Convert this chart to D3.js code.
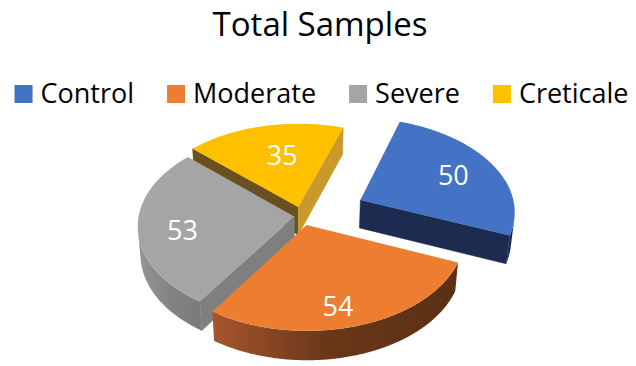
<!DOCTYPE html>
<html><head><meta charset="utf-8">
<script src="https://cdn.jsdelivr.net/npm/d3@7"></script>
<style>body{margin:0;background:#fff}svg{display:block}</style>
</head><body>
<svg id="chart" width="636" height="366"></svg>
<script>
// ---- data ----
const categories = ["Control", "Moderate", "Severe", "Creticale"];
const values = [50, 54, 53, 35];
const titleText = "Total Samples";
// ---- styles ----
const explode = [0.42, 0.1, 0.05, 0.1];
const labelRadius = [0.7, 0.8, 0.72, 0.62];
const labelTurnDeg = [0, 4, -4, 4];
const topColors = ["#4472C4", "#ED7D31", "#A5A5A5", "#FFC000"];
const sideStops = [
  ["#22386A", "#1C2E54", "#1A2B4E"],
  ["#A6562C", "#6B3819", "#5A2F14"],
  ["#959595", "#858585", "#7A7A7A"],
  ["#8A6A20", "#7A5C1E", "#6A4F1F"]
];
const startFaceColors = ["#1B2C50", "#5B3015", "#7F7F7F", "#6A4F1F"];
const endFaceColors = ["#1B2C50", "#5B3015", "#7F7F7F", "#C9992B"];

const svg = d3.select("#chart");
const defs = svg.append("defs");

// ---- 3D projection ----
const cx = 302, cy = 216, K = 155.6;
const elev = Math.asin(0.6), D = 8, thick = 0.23;
const firstAngle = 18.5 * Math.PI / 180;
const se = Math.sin(elev), ce = Math.cos(elev);
const cam = [0, D * se, -D * ce];
function proj(X, Y, Z) {
  const up = Y * ce + Z * se;
  const depth = Z * ce - Y * se;
  const p = 1 / (1 + depth / D);
  return [cx + K * X * p, cy - K * up * p];
}
function visible(P, n) {
  return (cam[0] - P[0]) * n[0] + (cam[1] - P[1]) * n[1] + (cam[2] - P[2]) * n[2] > 0;
}
const line = d3.line();

const pie = d3.pie().sort(null).value(d => d.v)
  .startAngle(firstAngle).endAngle(firstAngle + 2 * Math.PI);
const arcs = pie(categories.map((c, i) => ({ c, v: values[i], i })));

const slices = arcs.map(a => {
  const i = a.data.i;
  const mid = (a.startAngle + a.endAngle) / 2;
  const ox = explode[i] * Math.sin(mid), oz = explode[i] * Math.cos(mid);
  const cz = oz + 0.5 * Math.cos(mid);
  return { a, i, mid, ox, oz, cz };
}).sort((p, q) => q.cz - p.cz);

const step = Math.PI / 360;
slices.forEach(s => {
  const { a, i, ox, oz } = s;
  const a0 = a.startAngle, a1 = a.endAngle;
  const g = svg.append("g");
  const rim = (t, Y) => proj(ox + Math.sin(t), Y, oz + Math.cos(t));
  const apex = Y => proj(ox, Y, oz);

  const nS = [-Math.cos(a0), 0, Math.sin(a0)];
  const pS = [ox + 0.5 * Math.sin(a0), -thick / 2, oz + 0.5 * Math.cos(a0)];
  if (visible(pS, nS)) {
    g.append("path").attr("d", line([apex(0), rim(a0, 0), rim(a0, -thick), apex(-thick)]) + "Z")
      .attr("fill", startFaceColors[i]).attr("stroke", startFaceColors[i]).attr("stroke-width", 0.5);
  }
  const nE = [Math.cos(a1), 0, -Math.sin(a1)];
  const pE = [ox + 0.5 * Math.sin(a1), -thick / 2, oz + 0.5 * Math.cos(a1)];
  if (visible(pE, nE)) {
    g.append("path").attr("d", line([apex(0), rim(a1, 0), rim(a1, -thick), apex(-thick)]) + "Z")
      .attr("fill", endFaceColors[i]).attr("stroke", endFaceColors[i]).attr("stroke-width", 0.5);
  }
  const ts = d3.range(a0, a1, step).concat([a1]);
  const vis = ts.filter(t => visible([ox + Math.sin(t), -thick / 2, oz + Math.cos(t)], [Math.sin(t), 0, Math.cos(t)]));
  if (vis.length > 1) {
    const gid = "side" + i;
    const gr = defs.append("linearGradient").attr("id", gid).attr("x1", 0).attr("x2", 1).attr("y1", 0).attr("y2", 0);
    sideStops[i].forEach((c, k) => gr.append("stop").attr("offset", k === 1 ? 0.45 : k / 2).attr("stop-color", c));
    const topPts = vis.map(t => rim(t, 0));
    const botPts = vis.slice().reverse().map(t => rim(t, -thick));
    g.append("path").attr("d", line(topPts.concat(botPts)) + "Z")
      .attr("fill", `url(#${gid})`);
  }
  const topFace = [apex(0)].concat(ts.map(t => rim(t, 0)));
  g.append("path").attr("d", line(topFace) + "Z").attr("fill", topColors[i]);
});

// ---- data labels ----
slices.forEach(s => {
  const ang = s.mid + labelTurnDeg[s.i] * Math.PI / 180;
  const r = labelRadius[s.i];
  const p = proj(s.ox + r * Math.sin(ang), 0, s.oz + r * Math.cos(ang));
  svg.append("text").attr("x", p[0]).attr("y", p[1])
    .attr("text-anchor", "middle").attr("dominant-baseline", "central")
    .attr("font-family", "'Open Sans', sans-serif").attr("font-size", 27)
    .attr("fill", "#ffffff").text(values[s.i]);
});

// ---- title ----
svg.append("text").attr("x", 320).attr("y", 36).attr("text-anchor", "middle")
  .attr("font-family", "'Open Sans', sans-serif").attr("font-size", 33)
  .attr("fill", "#000000").text(titleText);

// ---- legend ----
const legend = svg.append("g");
const items = legend.selectAll("g").data(categories).join("g");
items.append("rect").attr("width", 18).attr("height", 18).attr("y", 85)
  .attr("fill", (d, i) => topColors[i]);
items.append("text").attr("y", 103).attr("x", 26)
  .attr("font-family", "'Open Sans', sans-serif").attr("font-size", 27)
  .attr("fill", "#000000").text(d => d);
const widths = [];
items.each(function () { widths.push(26 + d3.select(this).select("text").node().getComputedTextLength()); });
const gap = 33;
const total = d3.sum(widths) + gap * (widths.length - 1);
let xpos = 321.5 - total / 2;
items.attr("transform", (d, i) => {
  const x = xpos; xpos += widths[i] + gap; return `translate(${x},0)`;
});
</script>
</body></html>
